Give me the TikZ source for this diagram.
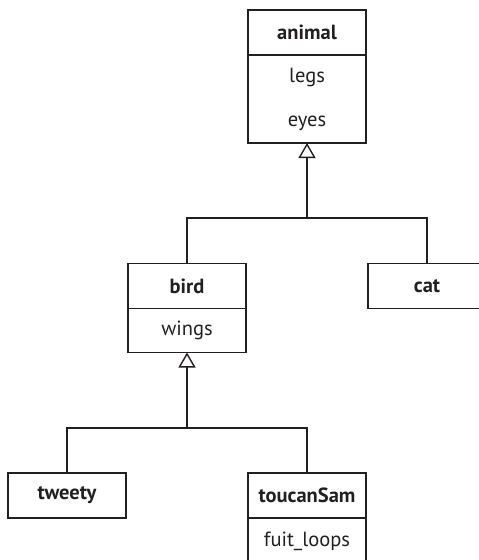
\documentclass[tikz,border=0pt]{standalone}
\usepackage{fontspec}
\setmainfont{PT Sans}
\usetikzlibrary{arrows.meta}
\definecolor{ink}{RGB}{35,31,32}
\tikzset{
  umlhead/.style={draw=ink,line width=1.4pt,outer sep=0pt,minimum width=118pt,minimum height=45pt,inner sep=0pt,font=\fontsize{20.5}{24}\selectfont\bfseries,text=ink},
  umlattr/.style={draw=ink,line width=1.4pt,outer sep=0pt,minimum width=118pt,minimum height=44pt,inner sep=0pt,anchor=north,align=center,font=\fontsize{20.5}{44}\selectfont,text=ink},
  link/.style={draw=ink,line width=1.4pt},
  inherit/.style={link,-{Triangle[open,length=15pt,width=17pt,fill=white]}}
}
\begin{document}
\begin{tikzpicture}[x=1pt,y=-1pt]
  \path[use as bounding box,clip] (0,0) rectangle (479,560);
  % classes
  \node[umlhead] (animal) at (307,32.5) {animal};
  \node[umlattr,minimum height=88pt] (animalAttr) at (animal.south) {legs\\eyes};
  \node[umlhead] (bird) at (187,286) {bird};
  \node[umlattr] (birdAttr) at (bird.south) {wings};
  \node[umlhead] (cat) at (427,286) {cat};
  \node[umlhead] (tweety) at (67,495.5) {tweety};
  \node[umlhead] (toucanSam) at (307,495.5) {toucanSam};
  \node[umlattr,minimum height=46pt] (toucanAttr) at (toucanSam.south) {fuit\_loops};
  % inheritance
  \coordinate (J1) at (307,218); \coordinate (J2) at (187,428);
  \draw[inherit] (J1) -- (animalAttr.south);
  \draw[link] (bird.north) |- (J1) -| (cat.north);
  \draw[inherit] (J2) -- (birdAttr.south);
  \draw[link] (tweety.north) |- (J2) -| (toucanSam.north);
\end{tikzpicture}
\end{document}
